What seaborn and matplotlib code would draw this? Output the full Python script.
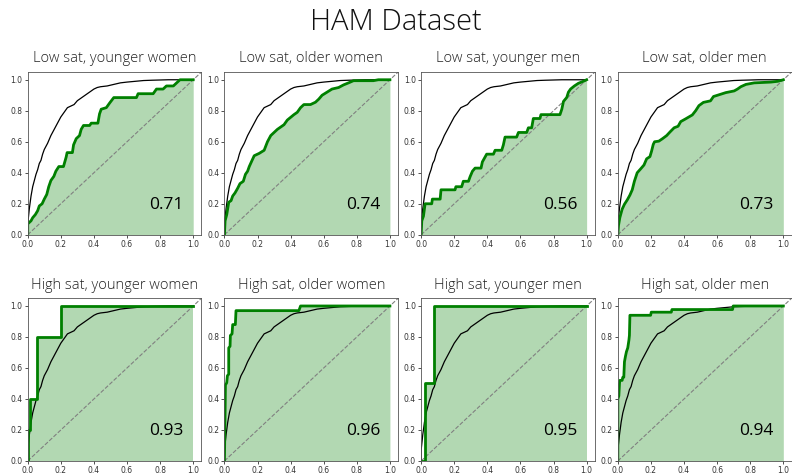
import numpy as np
import pandas as pd
import matplotlib
matplotlib.use("Agg")
import matplotlib.pyplot as plt
import seaborn as sns
from matplotlib import font_manager

# ---------------- data ----------------
main_title = "HAM Dataset"
panel_titles = ["Low sat, younger women", "Low sat, older women",
                "Low sat, younger men", "Low sat, older men",
                "High sat, younger women", "High sat, older women",
                "High sat, younger men", "High sat, older men"]
auc_labels = ["0.71", "0.74", "0.56", "0.73", "0.93", "0.96", "0.95", "0.94"]

# overall ROC (black, same in every panel)
overall_fpr = [0, 0, 0.005, 0.01, 0.015, 0.02, 0.03, 0.04, 0.05, 0.06, 0.07, 0.08, 0.09,
               0.10, 0.12, 0.14, 0.16, 0.18, 0.20, 0.22, 0.24, 0.26, 0.28, 0.30, 0.32,
               0.34, 0.36, 0.38, 0.40, 0.42, 0.44, 0.48, 0.52, 0.56, 0.60, 0.65, 0.70,
               0.75, 0.85, 1.0]
overall_tpr = [0, 0.07, 0.12, 0.17, 0.21, 0.25, 0.31, 0.35, 0.39, 0.42, 0.46, 0.48, 0.52,
               0.55, 0.59, 0.64, 0.68, 0.72, 0.76, 0.79, 0.82, 0.83, 0.84, 0.865, 0.88,
               0.895, 0.91, 0.925, 0.94, 0.95, 0.955, 0.96, 0.97, 0.98, 0.985, 0.99, 0.995,
               0.997, 1.0, 1.0]

fpr_low_young_women = [0, 0, 0.02, 0.03, 0.046, 0.06, 0.07, 0.087, 0.1, 0.115, 0.127, 0.14,
                       0.158, 0.17, 0.188, 0.216, 0.232, 0.238, 0.27, 0.277, 0.293, 0.313,
                       0.323, 0.337, 0.374, 0.384, 0.424, 0.434, 0.444, 0.475, 0.495, 0.52,
                       0.657, 0.667, 0.758, 0.778, 0.818, 0.838, 0.88, 0.9, 0.92, 1.0]
tpr_low_young_women = [0, 0.07, 0.09, 0.11, 0.13, 0.155, 0.186, 0.2, 0.23, 0.26, 0.31, 0.35,
                       0.377, 0.41, 0.44, 0.44, 0.50, 0.53, 0.53, 0.58, 0.62, 0.64,
                       0.68, 0.705, 0.705, 0.72, 0.72, 0.78, 0.81, 0.82, 0.85, 0.885,
                       0.885, 0.91, 0.91, 0.94, 0.94, 0.96, 0.96, 0.98, 1.0, 1.0]

fpr_low_old_women = [0, 0.004, 0.014, 0.026, 0.04, 0.05, 0.064, 0.08, 0.094, 0.114, 0.127,
                     0.14, 0.15, 0.167, 0.18, 0.21, 0.24, 0.26, 0.28, 0.30, 0.32, 0.36, 0.38,
                     0.42, 0.44, 0.46, 0.48, 0.52, 0.55, 0.57, 0.59, 0.62, 0.65, 0.69, 0.72,
                     0.75, 0.78, 0.9, 0.93, 1.0]
tpr_low_old_women = [0, 0.09, 0.13, 0.21, 0.22, 0.25, 0.27, 0.30, 0.33, 0.345, 0.39,
                     0.41, 0.44, 0.48, 0.51, 0.525, 0.545, 0.6, 0.64, 0.66, 0.68, 0.71, 0.74,
                     0.775, 0.79, 0.82, 0.84, 0.84, 0.855, 0.875, 0.90, 0.92, 0.94, 0.95, 0.967,
                     0.98, 0.994, 0.994, 1.0, 1.0]

fpr_low_young_men = [0, 0.004, 0.014, 0.024, 0.064, 0.068, 0.115, 0.12, 0.205, 0.21, 0.245,
                     0.255, 0.286, 0.296, 0.31, 0.326, 0.362, 0.37, 0.396, 0.437, 0.447,
                     0.487, 0.497, 0.507, 0.577, 0.588, 0.638, 0.648, 0.668, 0.678, 0.718,
                     0.724, 0.839, 0.85, 0.86, 0.88, 0.89, 0.903, 0.926, 0.95, 0.98, 1.0]
tpr_low_young_men = [0, 0.09, 0.12, 0.2, 0.2, 0.23, 0.23, 0.29, 0.29, 0.31, 0.31,
                     0.345, 0.345, 0.375, 0.41, 0.43, 0.43, 0.47, 0.52, 0.52, 0.545,
                     0.545, 0.58, 0.63, 0.63, 0.66, 0.66, 0.69, 0.69, 0.75, 0.75,
                     0.775, 0.775, 0.81, 0.86, 0.886, 0.92, 0.94, 0.96, 0.977, 0.99, 1.0]

fpr_low_old_men = [0, 0.004, 0.012, 0.026, 0.04, 0.057, 0.073, 0.087, 0.1, 0.117, 0.137,
                   0.158, 0.174, 0.194, 0.204, 0.214, 0.222, 0.248, 0.27, 0.295, 0.315, 0.34,
                   0.364, 0.38, 0.41, 0.45, 0.47, 0.49, 0.517, 0.56, 0.578, 0.602, 0.652,
                   0.703, 0.723, 0.743, 0.774, 0.824, 0.925, 0.966, 1.0]
tpr_low_old_men = [0, 0.06, 0.11, 0.165, 0.197, 0.225, 0.256, 0.29, 0.345, 0.4, 0.424,
                   0.45, 0.49, 0.504, 0.54, 0.583, 0.6, 0.604, 0.62, 0.64, 0.663, 0.69,
                   0.70, 0.73, 0.748, 0.773, 0.8, 0.833, 0.854, 0.864, 0.892, 0.9, 0.917,
                   0.928, 0.94, 0.955, 0.97, 0.98, 0.985, 0.99, 1.0]

fpr_high_young_women = [0, 0, 0.015, 0.015, 0.055, 0.055, 0.2, 0.2, 1.0]
tpr_high_young_women = [0, 0.2, 0.2, 0.4, 0.4, 0.8, 0.8, 1.0, 1.0]

fpr_high_old_women = [0, 0.004, 0.006, 0.014, 0.018, 0.026, 0.026, 0.034, 0.036, 0.046,
                      0.05, 0.066, 0.07, 0.45, 0.46, 1.0]
tpr_high_old_women = [0, 0.31, 0.49, 0.505, 0.55, 0.56, 0.73, 0.74, 0.81, 0.82,
                      0.88, 0.88, 0.97, 0.97, 1.0, 1.0]

fpr_high_young_men = [0, 0.024, 0.024, 0.075, 0.075, 1.0]
tpr_high_young_men = [0, 0, 0.5, 0.5, 1.0, 1.0]

fpr_high_old_men = [0, 0, 0.006, 0.01, 0.012, 0.026, 0.03, 0.036, 0.04, 0.046, 0.052, 0.06,
                    0.067, 0.07, 0.073, 0.198, 0.202, 0.323, 0.327, 0.693, 0.697, 1.0]
tpr_high_old_men = [0, 0.4, 0.42, 0.5, 0.52, 0.52, 0.54, 0.54, 0.64, 0.675, 0.705, 0.73,
                    0.78, 0.81, 0.94, 0.94, 0.96, 0.96, 0.977, 0.977, 1.0, 1.0]

group_fpr = [fpr_low_young_women, fpr_low_old_women, fpr_low_young_men, fpr_low_old_men,
             fpr_high_young_women, fpr_high_old_women, fpr_high_young_men, fpr_high_old_men]
group_tpr = [tpr_low_young_women, tpr_low_old_women, tpr_low_young_men, tpr_low_old_men,
             tpr_high_young_women, tpr_high_old_women, tpr_high_young_men, tpr_high_old_men]

# ---------------- fonts ----------------
avail = {f.name for f in font_manager.fontManager.ttflist}
light_family = "Open Sans" if "Open Sans" in avail else "DejaVu Sans"
auc_family = "Open Sans" if "Open Sans" in avail else "DejaVu Sans"

# ---------------- figure ----------------
fig, axes = plt.subplots(2, 4, figsize=(7.92, 4.75), dpi=100)
fig.subplots_adjust(left=0.035, right=0.9995, top=0.8484, bottom=0.0295,
                    wspace=0.132, hspace=0.39)

overall_df = pd.DataFrame({"fpr": overall_fpr, "tpr": overall_tpr})

for i, ax in enumerate(axes.flat):
    gdf = pd.DataFrame({"fpr": group_fpr[i], "tpr": group_tpr[i]})
    ax.fill_between(gdf["fpr"], gdf["tpr"], color="green", alpha=0.3, linewidth=0)
    ax.plot([0, 1.05], [0, 1.05], linestyle="--", color="gray", linewidth=0.8)
    sns.lineplot(data=overall_df, x="fpr", y="tpr", sort=False, estimator=None,
                 color="black", linewidth=0.9, ax=ax)
    sns.lineplot(data=gdf, x="fpr", y="tpr", sort=False, estimator=None,
                 color="green", linewidth=2.0, ax=ax)
    ax.set_xlim(0, 1.05)
    ax.set_ylim(0, 1.05)
    ax.set_xticks([0, 0.2, 0.4, 0.6, 0.8, 1.0])
    ax.set_yticks([0, 0.2, 0.4, 0.6, 0.8, 1.0])
    ax.set_xticklabels(["0.0", "0.2", "0.4", "0.6", "0.8", "1.0"])
    ax.set_yticklabels(["0.0", "0.2", "0.4", "0.6", "0.8", "1.0"])
    ax.tick_params(labelsize=5.5, length=2.5, width=0.6, pad=1.2, colors="#333333")
    for sp in ax.spines.values():
        sp.set_linewidth(0.6)
        sp.set_color("#555555")
    ax.set_xlabel("")
    ax.set_ylabel("")
    ax.set_title(panel_titles[i], fontsize=10.5, family=light_family,
                 fontweight="light", color="#222222", pad=7)
    ax.text(0.735, 0.165, auc_labels[i], fontsize=12.5, family=auc_family,
            ha="left", va="baseline", color="black")

fig.suptitle(main_title, fontsize=21, family=light_family, fontweight="light",
             y=0.985, color="#111111")

fig.savefig("out.png", dpi=100)
